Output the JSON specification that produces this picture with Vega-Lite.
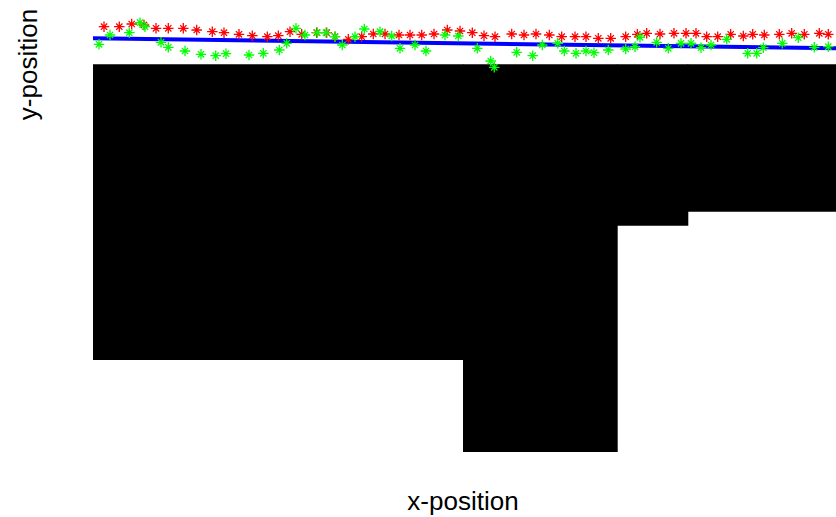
{
  "$schema": "https://vega.github.io/schema/vega-lite/v6.json",
  "width": 743,
  "height": 452,
  "autosize": {"type": "none"},
  "padding": {"left": 93, "top": 0, "right": 0, "bottom": 65},
  "background": "white",
  "config": {
    "view": {"stroke": null},
    "axis": {"domain": false, "ticks": false, "labels": false, "grid": false, "titleFont": "Liberation Sans", "titleFontSize": 26, "titleFontWeight": "normal", "titleColor": "black"},
    "axisX": {"titleX": 369.5, "titleY": 57, "titleBaseline": "alphabetic", "titleAlign": "center"},
    "axisY": {"titleX": -56.3, "titleY": 64, "titleAngle": -90, "titleBaseline": "alphabetic", "titleAlign": "center"}
  },
  "datasets": {
    "map": [
      {"x": 0, "x2": 37.05, "y": 9.2, "y2": 38.77},
      {"x": 37.0, "x2": 52.47, "y": 0, "y2": 38.77},
      {"x": 52.4, "x2": 59.53, "y": 22.63, "y2": 38.77},
      {"x": 59.45, "x2": 74.3, "y": 24.03, "y2": 38.77}
    ],
    "estimate": [
      {"x": 0, "y": 41.37},
      {"x": 74.3, "y": 40.37}
    ],
    "truth": [
      {"x": 1.10, "y": 42.53}, {"x": 2.63, "y": 42.53}, {"x": 3.87, "y": 42.80}, {"x": 5.10, "y": 42.70},
      {"x": 6.30, "y": 42.37}, {"x": 7.53, "y": 42.37}, {"x": 9.03, "y": 42.37}, {"x": 10.37, "y": 42.20},
      {"x": 11.93, "y": 42.03}, {"x": 13.10, "y": 41.93}, {"x": 14.60, "y": 41.77}, {"x": 15.93, "y": 41.63},
      {"x": 17.43, "y": 41.53}, {"x": 18.53, "y": 41.63}, {"x": 19.70, "y": 42.03}, {"x": 20.87, "y": 41.77},
      {"x": 22.37, "y": 41.93}, {"x": 23.37, "y": 41.93}, {"x": 24.20, "y": 41.53}, {"x": 25.53, "y": 41.27},
      {"x": 26.87, "y": 41.53}, {"x": 28.03, "y": 41.80}, {"x": 29.20, "y": 41.80}, {"x": 30.60, "y": 41.70},
      {"x": 31.70, "y": 41.70}, {"x": 32.87, "y": 41.70}, {"x": 34.10, "y": 41.80}, {"x": 35.43, "y": 42.20},
      {"x": 36.70, "y": 42.10}, {"x": 37.93, "y": 41.93}, {"x": 39.10, "y": 41.63}, {"x": 40.20, "y": 41.53},
      {"x": 41.87, "y": 41.80}, {"x": 43.10, "y": 41.70}, {"x": 44.30, "y": 41.80}, {"x": 45.63, "y": 41.70},
      {"x": 46.87, "y": 41.53}, {"x": 48.20, "y": 41.53}, {"x": 49.30, "y": 41.53}, {"x": 50.53, "y": 41.37},
      {"x": 51.77, "y": 41.37}, {"x": 53.27, "y": 41.53}, {"x": 54.43, "y": 41.77}, {"x": 55.37, "y": 41.87},
      {"x": 56.70, "y": 41.80}, {"x": 58.10, "y": 41.87}, {"x": 59.30, "y": 41.87}, {"x": 60.30, "y": 41.87},
      {"x": 61.37, "y": 41.53}, {"x": 62.47, "y": 41.53}, {"x": 63.77, "y": 41.77}, {"x": 65.03, "y": 41.60},
      {"x": 65.97, "y": 41.77}, {"x": 67.13, "y": 41.70}, {"x": 68.63, "y": 41.77}, {"x": 69.87, "y": 41.87},
      {"x": 71.13, "y": 41.77}, {"x": 72.63, "y": 41.87}, {"x": 73.53, "y": 41.77}
    ],
    "measured": [
      {"x": 0.60, "y": 40.77}, {"x": 1.70, "y": 41.70}, {"x": 3.63, "y": 41.93}, {"x": 4.70, "y": 42.93},
      {"x": 5.20, "y": 42.53}, {"x": 6.80, "y": 40.97}, {"x": 7.53, "y": 40.47}, {"x": 9.20, "y": 40.10},
      {"x": 10.80, "y": 39.77}, {"x": 12.27, "y": 39.63}, {"x": 13.30, "y": 39.83}, {"x": 15.60, "y": 39.70},
      {"x": 17.03, "y": 39.87}, {"x": 18.63, "y": 40.20}, {"x": 19.37, "y": 40.87}, {"x": 20.30, "y": 42.37},
      {"x": 21.20, "y": 41.70}, {"x": 22.43, "y": 41.93}, {"x": 23.30, "y": 41.93}, {"x": 24.20, "y": 41.53},
      {"x": 24.93, "y": 40.70}, {"x": 26.20, "y": 41.53}, {"x": 27.13, "y": 42.30}, {"x": 28.70, "y": 42.03},
      {"x": 29.87, "y": 41.60}, {"x": 30.70, "y": 40.37}, {"x": 32.20, "y": 40.70}, {"x": 33.30, "y": 40.10},
      {"x": 35.20, "y": 41.70}, {"x": 36.53, "y": 41.60}, {"x": 38.43, "y": 40.37}, {"x": 39.77, "y": 39.10},
      {"x": 40.13, "y": 38.47}, {"x": 42.37, "y": 39.97}, {"x": 43.97, "y": 39.63}, {"x": 44.93, "y": 40.70},
      {"x": 46.47, "y": 40.87}, {"x": 47.13, "y": 40.10}, {"x": 48.30, "y": 39.87}, {"x": 49.30, "y": 40.10},
      {"x": 50.10, "y": 39.93}, {"x": 51.53, "y": 40.20}, {"x": 53.27, "y": 40.30}, {"x": 54.20, "y": 40.53},
      {"x": 54.70, "y": 41.47}, {"x": 56.37, "y": 40.97}, {"x": 57.53, "y": 40.37}, {"x": 58.80, "y": 40.87},
      {"x": 59.80, "y": 40.87}, {"x": 60.80, "y": 40.43}, {"x": 61.80, "y": 40.70}, {"x": 63.37, "y": 41.27},
      {"x": 65.47, "y": 39.87}, {"x": 66.37, "y": 39.87}, {"x": 67.03, "y": 40.43}, {"x": 68.93, "y": 40.87},
      {"x": 70.53, "y": 41.43}, {"x": 72.13, "y": 40.47}, {"x": 73.53, "y": 40.53}
    ]
  },
  "layer": [
    {
      "data": {"name": "map"},
      "mark": {"type": "rect", "color": "black", "clip": true},
      "encoding": {
        "x": {"field": "x", "type": "quantitative", "title": "x-position", "scale": {"domain": [0, 74.3], "nice": false, "zero": false}},
        "x2": {"field": "x2"},
        "y": {"field": "y", "type": "quantitative", "title": "y-position", "scale": {"domain": [0, 45.2], "nice": false, "zero": false}},
        "y2": {"field": "y2"}
      }
    },
    {
      "data": {"name": "estimate"},
      "mark": {"type": "line", "color": "#0000ff", "strokeWidth": 4, "clip": true},
      "encoding": {
        "x": {"field": "x", "type": "quantitative", "title": "x-position"},
        "y": {"field": "y", "type": "quantitative", "title": "y-position"}
      }
    },
    {
      "data": {"name": "truth"},
      "mark": {"type": "point", "shape": "M-1,0L1,0M0,-1L0,1M-0.6,-0.6L0.6,0.6M-0.6,0.6L0.6,-0.6", "size": 110, "filled": false, "stroke": "#ff0000", "strokeWidth": 1.3, "opacity": 1, "clip": true},
      "encoding": {
        "x": {"field": "x", "type": "quantitative", "title": "x-position"},
        "y": {"field": "y", "type": "quantitative", "title": "y-position"}
      }
    },
    {
      "data": {"name": "measured"},
      "mark": {"type": "point", "shape": "M-1,0L1,0M0,-1L0,1M-0.6,-0.6L0.6,0.6M-0.6,0.6L0.6,-0.6", "size": 110, "filled": false, "stroke": "#00ff00", "strokeWidth": 1.3, "opacity": 1, "clip": true},
      "encoding": {
        "x": {"field": "x", "type": "quantitative", "title": "x-position"},
        "y": {"field": "y", "type": "quantitative", "title": "y-position"}
      }
    }
  ]
}
